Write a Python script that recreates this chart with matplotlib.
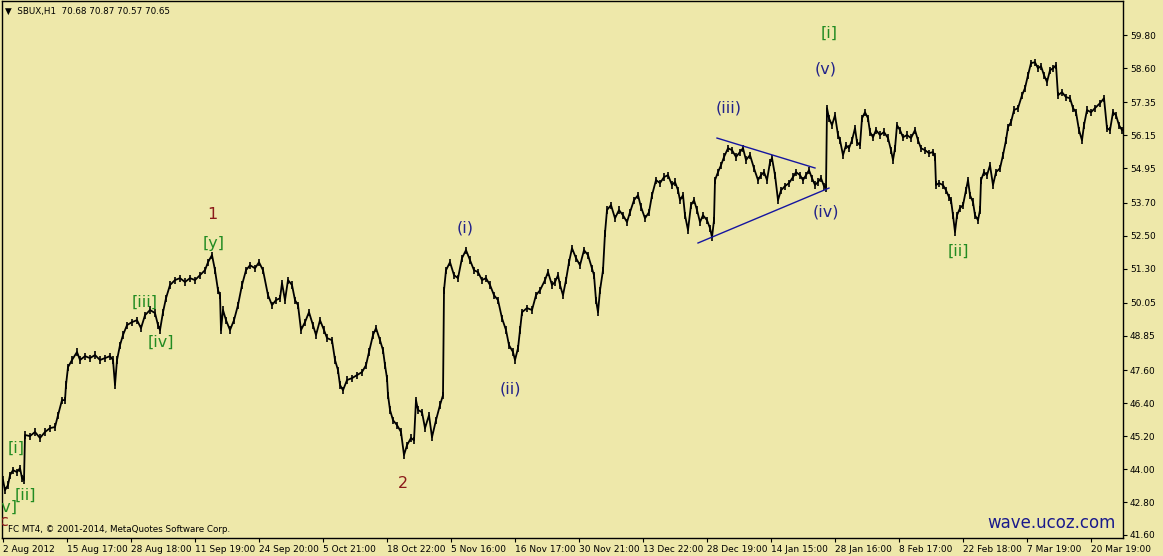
import matplotlib
matplotlib.use('Agg')
import matplotlib.pyplot as plt
import numpy as np

# SBUX H1 prices (bar index, price)
bars_a = [3, 5, 8, 10, 13, 17, 20, 22, 24, 25, 30, 35, 40, 45, 50, 55, 58, 62, 65, 66, 68, 72, 77, 80,
          85, 90, 95, 100, 105, 110, 113, 115, 117, 120, 123, 127, 132, 137, 141, 145, 150, 155, 158,
          160, 163, 166, 170, 175, 180, 185, 190, 195, 200, 205, 208, 212, 215, 218, 220, 221, 223,
          226, 230, 234, 238, 242, 246, 250, 255, 259, 263, 268, 272, 276, 280]
price_a = [43.60, 43.23, 43.42, 43.78, 43.96, 43.89, 44.03, 43.67, 43.60, 45.24, 45.20, 45.35, 45.13,
           45.35, 45.49, 45.53, 45.96, 46.51, 46.51, 47.06, 47.71, 47.97, 48.26, 47.97, 48.11, 48.04,
           48.15, 47.97, 48.04, 48.11, 47.97, 47.06, 47.97, 48.51, 48.88, 49.24, 49.35, 49.42, 49.13,
           49.60, 49.79, 49.68, 49.24, 49.06, 49.71, 50.22, 50.70, 50.88, 50.95, 50.81, 50.95, 50.88,
           51.06, 51.24, 51.53, 51.79, 51.24, 50.51, 50.33, 49.06, 49.79, 49.42, 49.06, 49.42, 49.97,
           50.70, 51.24, 51.42, 51.31, 51.53, 51.24, 50.33, 49.97, 50.15, 50.22]

bars_b = [282, 285, 288, 292, 295, 298, 301, 305, 309, 313, 316, 320, 324, 327, 332, 335, 338, 340,
          343, 347, 352, 357, 362, 366, 369, 373, 376, 380, 383, 385, 387, 388, 390, 393, 397, 401,
          404, 407, 411, 414, 416, 418, 422, 425, 429, 432, 436, 440, 443, 444, 446, 450, 454, 458,
          462, 466, 470, 474, 478, 482, 486, 490, 494, 498, 502, 506, 509, 513, 515, 518, 520, 522,
          527, 532, 536, 540, 545, 548, 552, 555, 558]
price_b = [50.77, 50.15, 50.88, 50.70, 50.15, 49.97, 49.06, 49.35, 49.71, 49.24, 48.88, 49.42, 49.06,
           48.77, 48.69, 47.97, 47.60, 47.06, 46.87, 47.24, 47.31, 47.42, 47.53, 47.78, 48.26, 48.88,
           49.13, 48.69, 48.33, 47.78, 47.31, 46.69, 46.15, 45.78, 45.60, 45.35, 44.51, 44.87, 45.13,
           45.05, 46.51, 46.15, 46.07, 45.49, 45.96, 45.16, 45.78, 46.33, 46.69, 50.51, 51.24, 51.53,
           51.06, 50.95, 51.68, 51.97, 51.61, 51.24, 51.17, 50.88, 50.95, 50.70, 50.33, 50.15, 49.49,
           49.06, 48.51, 48.26, 47.97, 48.40, 49.06, 49.71, 49.86, 49.79, 50.33, 50.51, 50.88, 51.17,
           50.70, 50.81, 51.06]

bars_c = [560, 563, 566, 569, 572, 576, 580, 584, 588, 592, 594, 596, 598, 600, 603, 605, 607, 611,
          615, 619, 623, 627, 630, 634, 638, 641, 645, 649, 652, 656, 660, 664, 668, 672, 675, 678,
          680, 683, 685, 688, 691, 694, 697, 700, 703, 707, 710, 712, 714, 715, 718, 721, 724, 728,
          732, 736, 740, 743, 746, 750, 754, 758, 761, 764, 767, 770, 772, 775, 778, 781, 785, 789,
          793, 796, 800, 803, 806, 809, 812, 815, 818, 821, 824, 826, 827, 829, 832, 835, 838, 840]
price_c = [50.70, 50.33, 50.88, 51.53, 52.04, 51.68, 51.42, 51.97, 51.79, 51.31, 51.06, 50.15, 49.71,
           50.51, 51.24, 52.59, 53.43, 53.61, 53.13, 53.43, 53.24, 52.99, 53.35, 53.79, 53.97, 53.54,
           53.13, 53.35, 53.97, 54.52, 54.41, 54.63, 54.70, 54.34, 54.45, 54.15, 53.79, 53.97, 53.24,
           52.70, 53.61, 53.79, 53.43, 52.99, 53.24, 53.06, 52.77, 52.44, 53.06, 54.52, 54.81, 55.06,
           55.36, 55.68, 55.61, 55.36, 55.54, 55.68, 55.25, 55.43, 54.95, 54.52, 54.70, 54.81, 54.52,
           55.17, 55.32, 54.70, 53.79, 54.15, 54.30, 54.41, 54.63, 54.81, 54.70, 54.52, 54.70, 54.88,
           54.59, 54.34, 54.45, 54.59, 54.30, 54.23, 57.14, 56.77, 56.52, 56.88, 56.16, 55.97]

bars_d = [843, 846, 849, 852, 855, 857, 860, 862, 865, 868, 870, 873, 876, 880, 884, 888, 891, 893,
          895, 897, 900, 903, 907, 911, 915, 918, 921, 925, 929, 933, 935, 936, 939, 943, 946, 949,
          951, 953, 955, 957, 960, 963, 966, 968, 970, 973, 975, 978, 980, 981, 984, 987, 990, 993,
          996, 1000, 1003, 1006, 1008, 1011, 1014, 1018, 1022, 1025, 1028, 1031, 1035, 1038, 1041,
          1044, 1047, 1050, 1053, 1056, 1058, 1062, 1066, 1070, 1073, 1076, 1079, 1082, 1084, 1087,
          1091, 1095, 1100, 1104, 1107, 1110, 1113, 1116, 1119, 1122]
price_d = [55.43, 55.79, 55.68, 55.97, 56.41, 55.90, 55.79, 56.77, 56.99, 56.77, 56.27, 56.08, 56.34,
           56.16, 56.27, 56.05, 55.61, 55.25, 55.68, 56.52, 56.34, 56.08, 56.16, 56.05, 56.34, 55.97,
           55.68, 55.61, 55.50, 55.54, 55.36, 54.34, 54.41, 54.34, 54.15, 53.90, 53.79, 53.24, 52.63,
           53.24, 53.50, 53.61, 54.15, 54.52, 53.97, 53.72, 53.24, 53.06, 53.43, 54.52, 54.81, 54.70,
           55.06, 54.34, 54.81, 54.95, 55.43, 55.97, 56.45, 56.63, 57.07, 57.14, 57.61, 57.87, 58.34,
           58.78, 58.81, 58.59, 58.67, 58.34, 58.09, 58.52, 58.59, 58.70, 57.61, 57.72, 57.54, 57.50,
           57.14, 56.99, 56.34, 55.97, 56.52, 57.07, 56.99, 57.14, 57.32, 57.50, 56.41, 56.34, 56.99,
           56.88, 56.52, 56.34]

bars = bars_a + bars_b + bars_c + bars_d
prices = price_a + price_b + price_c + price_d

price_ticks = [41.60, 42.80, 44.00, 45.20, 46.40, 47.60, 48.85, 50.05, 51.30, 52.50, 53.70,
               54.95, 56.15, 57.35, 58.60, 59.80]
date_ticks = [3, 67, 131, 195, 259, 323, 387, 451, 515, 579, 643, 707, 771, 835, 899, 963, 1027, 1091]
date_labels = ['2 Aug 2012', '15 Aug 17:00', '28 Aug 18:00', '11 Sep 19:00', '24 Sep 20:00',
               '5 Oct 21:00', '18 Oct 22:00', '5 Nov 16:00', '16 Nov 17:00', '30 Nov 21:00',
               '13 Dec 22:00', '28 Dec 19:00', '14 Jan 15:00', '28 Jan 16:00', '8 Feb 17:00',
               '22 Feb 18:00', '7 Mar 19:00', '20 Mar 19:00']

# wave labels: text, bar, price, colour
green = '#228B22'
navy = '#22228a'
brown = '#8b1a1a'
waves = [('1', 212, 53.25, brown), ('[y]', 214, 52.20, green), ('[iii]', 145, 50.08, green),
         ('[iv]', 161, 48.62, green), ('[i]', 16, 44.77, green), ('[ii]', 25, 43.05, green),
         ('[v]', 7, 42.62, green), ('c', 4, 42.10, brown), ('2', 403, 43.49, brown),
         ('(i)', 465, 52.78, navy), ('(ii)', 510, 46.92, navy), ('(iii)', 729, 57.14, navy),
         ('(iv)', 826, 53.36, navy), ('(v)', 826, 58.56, navy), ('[i]', 829, 59.87, green),
         ('[ii]', 958, 51.93, green)]

# triangle lines
tri_upper_x = [717, 815]
tri_upper_y = [56.05, 54.96]
tri_lower_x = [698, 829]
tri_lower_y = [52.23, 54.23]

bg = '#EEE8AA'
plt.rcParams['font.family'] = ['DejaVu Sans']

fig = plt.figure(figsize=(11.63, 5.56), dpi=100, facecolor=bg)
ax = fig.add_axes([2/1163, 18/556, 1121/1163, 537/556])
ax.set_facecolor(bg)

# hourly bars look: line through closes plus a short high-low stroke per bar
p = np.array(prices)
ax.plot(bars, prices, color='black', lw=1.3)
ax.vlines(bars, p - 0.13, p + 0.13, color='black', lw=1.2)
ax.plot(tri_upper_x, tri_upper_y, color='#1515a0', lw=1)
ax.plot(tri_lower_x, tri_lower_y, color='#1515a0', lw=1)

for txt, bx, py, col in waves:
    ax.text(bx, py, txt, color=col, fontsize=11.5, ha='center', va='center', clip_on=True)

ax.set_xlim(2, 1123)
ax.set_ylim(41.49, 61.04)

ax.yaxis.tick_right()
ax.set_yticks(price_ticks)
ax.set_yticklabels(['%.2f' % v for v in price_ticks])
ax.set_xticks(date_ticks)
ax.set_xticklabels(date_labels)
for lab in ax.get_xticklabels():
    lab.set_ha('left')
ax.tick_params(axis='both', direction='out', length=3, width=0.8, labelsize=6.5,
               colors='black', pad=2)
for s in ax.spines.values():
    s.set_color('black')
    s.set_linewidth(1)

fig.text(5/1163, 1 - 11/556, '\u25bc  SBUX,H1  70.68 70.87 70.57 70.65', fontsize=6.3,
         va='center', ha='left')
fig.text(8/1163, 1 - 530/556, 'FC MT4, \u00a9 2001-2014, MetaQuotes Software Corp.', fontsize=6.3,
         va='center', ha='left')
fig.text(1116/1163, 1 - 523/556, 'wave.ucoz.com', fontsize=12, color='#1a1a8c',
         va='center', ha='right')

fig.savefig('out.png', dpi=100, facecolor=bg)
